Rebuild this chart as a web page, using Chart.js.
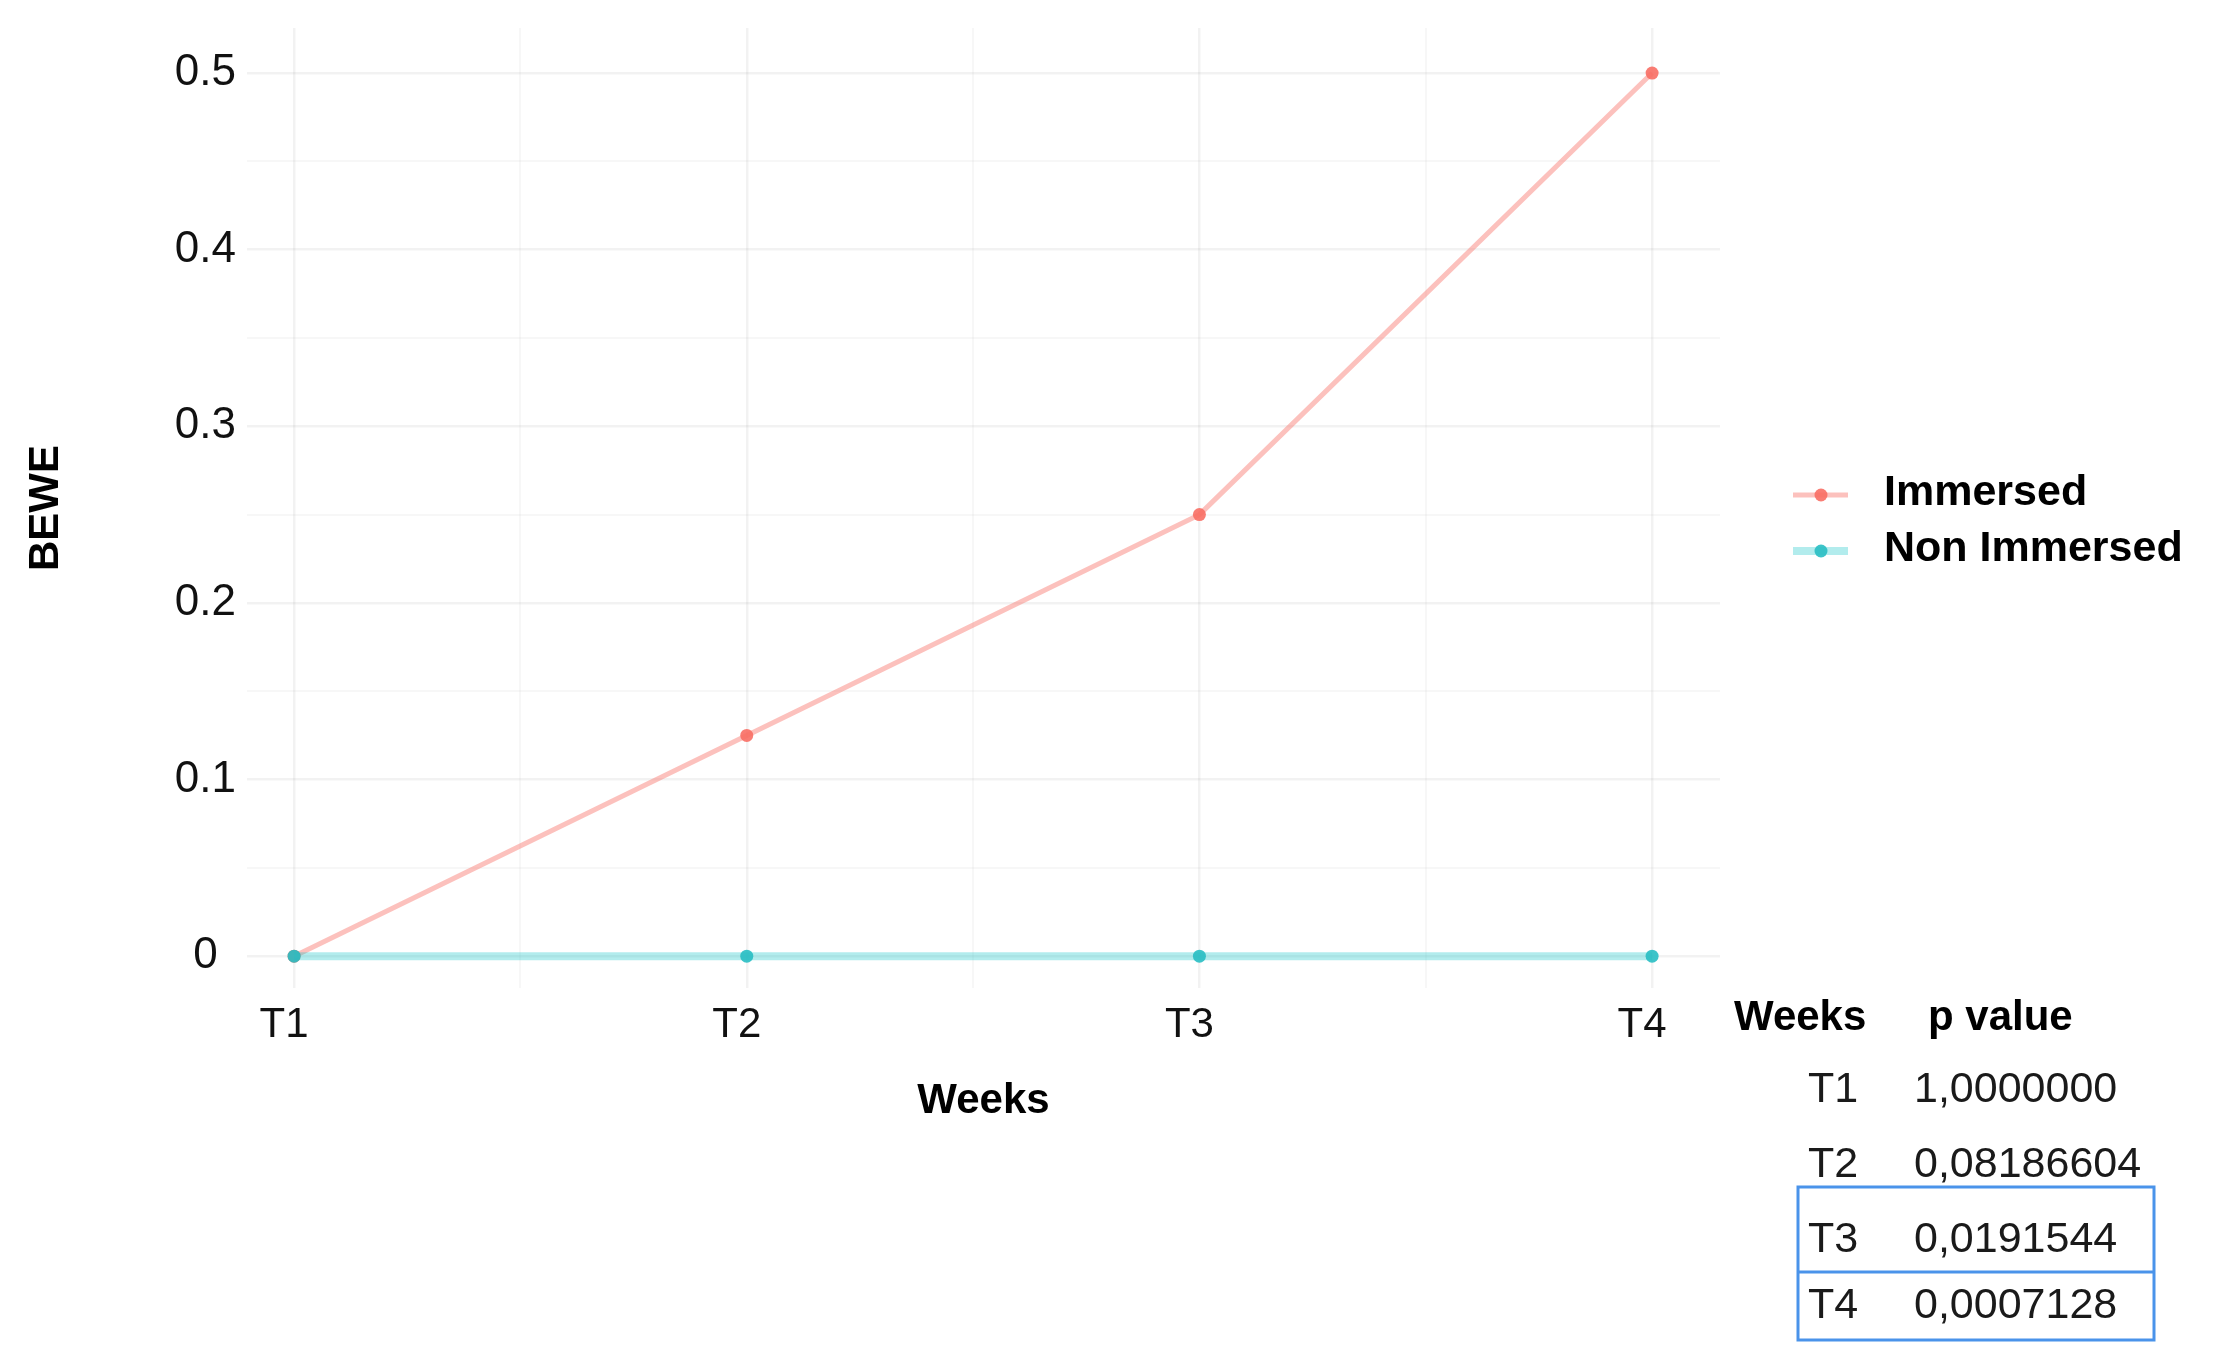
<!DOCTYPE html>
<html><head><meta charset="utf-8">
<script src="https://cdn.jsdelivr.net/npm/chart.js@4.4.1/dist/chart.umd.min.js"></script>
<style>html,body{margin:0;padding:0;background:#fff;} #wrap{width:2214px;height:1368px;}</style>
</head><body><div id="wrap"><canvas id="c" width="2214" height="1368"></canvas></div>
<script>
const categories = ['T1','T2','T3','T4'];
const seriesNames = ['Immersed','Non Immersed'];
const immersed = [0, 0.125, 0.25, 0.5];
const nonImmersed = [0, 0, 0, 0];
const yTickValues = [0, 0.1, 0.2, 0.3, 0.4, 0.5];
const yTickLabels = ['0','0.1','0.2','0.3','0.4','0.5'];
const tableHeader = ['Weeks','p value'];
const tableWeeks = ['T1','T2','T3','T4'];
const tablePValues = ['1,0000000','0,08186604','0,0191544','0,0007128'];
const highlightedRows = [2, 3];

const FONT = "'Liberation Sans', Arial, Helvetica, sans-serif";

const yMinor = [];
for (let i = 0; i < yTickValues.length - 1; i++) yMinor.push((yTickValues[i] + yTickValues[i+1]) / 2);
const yAllTicks = yTickValues.concat(yMinor).sort((a,b)=>a-b);
const xAllTicks = [];
for (let i = 0; i < categories.length; i++) { xAllTicks.push(i); if (i < categories.length - 1) xAllTicks.push(i + 0.5); }

const isMajorY = v => yTickValues.some(t => Math.abs(t - v) < 1e-9);
const isMajorX = v => Math.abs(v - Math.round(v)) < 1e-9;

const overlay = {
  id: 'overlay',
  afterDraw(chart) {
    const ctx = chart.ctx;
    ctx.save();
    // legend
    chart.data.datasets.forEach((ds, i) => {
      const y = 495 + i * 56;
      ctx.strokeStyle = ds.borderColor;
      ctx.lineWidth = ds.borderWidth;
      ctx.beginPath(); ctx.moveTo(1793, y); ctx.lineTo(1848, y); ctx.stroke();
      ctx.fillStyle = ds.pointBackgroundColor;
      ctx.beginPath(); ctx.arc(1821, y, 6.5, 0, Math.PI * 2); ctx.fill();
      ctx.fillStyle = '#000';
      ctx.font = 'bold 43px ' + FONT;
      ctx.textAlign = 'left'; ctx.textBaseline = 'middle';
      ctx.fillText(ds.label, 1884, y - 2);
    });
    // table
    ctx.textBaseline = 'alphabetic';
    ctx.fillStyle = '#000';
    ctx.font = 'bold 42px ' + FONT;
    ctx.fillText(tableHeader[0], 1734, 1030);
    ctx.fillText(tableHeader[1], 1928, 1030);
    const rowBase = [1102, 1177, 1252, 1318];
    ctx.font = '43px ' + FONT;
    ctx.fillStyle = '#1a1a1a';
    tableWeeks.forEach((w, i) => {
      ctx.fillText(w, 1808, rowBase[i]);
      ctx.fillText(tablePValues[i], 1914, rowBase[i]);
    });
    ctx.strokeStyle = '#4a93ea';
    ctx.lineWidth = 3;
    if (highlightedRows.length) {
      ctx.strokeRect(1798, 1187, 356, 153);
      ctx.beginPath(); ctx.moveTo(1798, 1272); ctx.lineTo(2154, 1272); ctx.stroke();
    }
    ctx.restore();
  }
};

new Chart(document.getElementById('c'), {
  type: 'line',
  data: {
    datasets: [
      {
        label: seriesNames[0],
        data: immersed.map((v, i) => ({x: i, y: v})),
        borderColor: 'rgba(248,118,109,0.45)',
        borderWidth: 5,
        pointBackgroundColor: 'rgba(248,110,100,0.9)',
        pointBorderWidth: 0,
        pointRadius: 6.5,
        order: 1
      },
      {
        label: seriesNames[1],
        data: nonImmersed.map((v, i) => ({x: i, y: v})),
        borderColor: 'rgba(0,191,196,0.3)',
        borderWidth: 8,
        pointBackgroundColor: 'rgba(40,190,195,0.9)',
        pointBorderWidth: 0,
        pointRadius: 6.5,
        order: 0
      }
    ]
  },
  options: {
    responsive: false,
    animation: false,
    layout: { padding: { top: 28, right: 494, left: 0, bottom: 0 } },
    plugins: { legend: { display: false }, tooltip: { enabled: false } },
    scales: {
      x: {
        type: 'linear',
        min: -0.104, max: 3.15,
        afterBuildTicks: s => { s.ticks = xAllTicks.map(v => ({value: v})); },
        afterFit: s => { s.height = 380; s.paddingLeft = 0; s.paddingRight = 0; },
        grid: {
          drawTicks: false,
          color: c => isMajorX(c.tick.value) ? 'rgba(0,0,0,0.05)' : 'rgba(0,0,0,0.03)',
          lineWidth: c => isMajorX(c.tick.value) ? 2.5 : 2
        },
        border: { display: false },
        ticks: {
          autoSkip: false, maxRotation: 0, padding: 12, labelOffset: -10,
          color: '#111',
          font: { family: FONT, size: 42 },
          callback: v => isMajorX(v) ? categories[Math.round(v)] : ''
        },
        title: {
          display: true, text: 'Weeks', color: '#000',
          font: { family: FONT, size: 42, weight: 'bold' },
          padding: { top: 0, bottom: 241 }
        }
      },
      y: {
        type: 'linear',
        min: -0.018, max: 0.5255,
        afterBuildTicks: s => { s.ticks = yAllTicks.map(v => ({value: v})); },
        afterFit: s => { s.width = 247; s.paddingTop = 0; s.paddingBottom = 0; },
        grid: {
          drawTicks: false,
          color: c => isMajorY(c.tick.value) ? 'rgba(0,0,0,0.05)' : 'rgba(0,0,0,0.03)',
          lineWidth: c => isMajorY(c.tick.value) ? 2.5 : 2
        },
        border: { display: false },
        ticks: {
          autoSkip: false, padding: 11, crossAlign: 'center',
          color: '#111',
          font: { family: FONT, size: 44 },
          callback: v => {
            const idx = yTickValues.findIndex(t => Math.abs(t - v) < 1e-9);
            return idx >= 0 ? yTickLabels[idx] : '';
          }
        },
        title: {
          display: true, text: 'BEWE', color: '#000',
          font: { family: FONT, size: 42, weight: 'bold' },
          padding: { top: 21, bottom: 0 }
        }
      }
    }
  },
  plugins: [overlay]
});
</script>
</body></html>
